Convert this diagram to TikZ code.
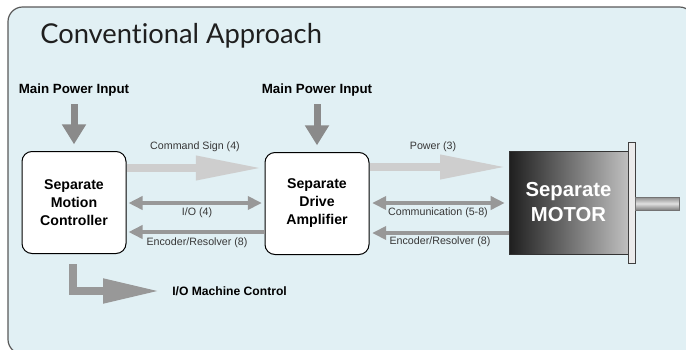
\documentclass[tikz,border=0pt]{standalone}
\usepackage{fontspec}
\setmainfont{Liberation Sans}
\newfontfamily\titlefont[Ligatures=NoCommon]{Lato}
\usetikzlibrary{arrows.meta}
\definecolor{panel}{RGB}{225,240,244}
\definecolor{lightarrow}{RGB}{206,206,206}
\definecolor{midarrow}{RGB}{152,152,152}
\definecolor{darkarrow}{RGB}{138,138,138}
\definecolor{labelgray}{RGB}{55,55,55}
\begin{document}
\begin{tikzpicture}[x=0.75pt,y=-0.75pt,
    unitbox/.style={draw=black,fill=white,rounded corners=7.5pt,line width=0.75pt,
      minimum width=78pt,minimum height=76.5pt,align=center,
      font=\bfseries\fontsize{10.6}{13.5}\selectfont},
    motorbox/.style={draw=black!80,left color=black!88,right color=black!25,text=white,
      minimum width=89.25pt,minimum height=77.25pt,align=center,
      font=\bfseries\fontsize{15.2}{18.75}\selectfont},
    heading/.style={font=\bfseries\fontsize{10}{12}\selectfont,inner sep=0pt},
    tag/.style={font=\fontsize{8}{9.5}\selectfont,text=labelgray,inner sep=0pt},
    feedarrow/.style={darkarrow,line width=5.25pt,-{Triangle[length=15pt,width=17.25pt]}},
    flowarrow/.style={lightarrow,line width=6pt,-{Triangle[length=50pt,width=17pt]}},
    sigarrow/.style={midarrow,line width=3pt,-{Triangle[length=10.5pt,width=9.75pt]}},
    bisigarrow/.style={midarrow,line width=3pt,{Triangle[length=10.5pt,width=9.75pt]}-{Triangle[length=10.5pt,width=9.75pt]}},
    outarrow/.style={midarrow,line width=6pt,-{Triangle[length=42.75pt,width=17.25pt]}}]
  \useasboundingbox (0,0) rectangle (686,350);
  \clip (0,0) rectangle (686,350);
  \draw[black!65,fill=panel,rounded corners=11pt,line width=0.9pt] (8,7) rectangle (694,354);
  \node[anchor=base west,font=\titlefont\fontsize{20.5}{24}\selectfont,text=black!88,inner sep=0pt] (title) at (40,43) {Conventional Approach};

  \node[unitbox] (ctrl) at (74,202.5) {Separate\\Motion\\Controller};
  \node[unitbox] (amp) at (317,203.5) {Separate\\Drive\\Amplifier};
  \node[motorbox] (motor) at (568.5,202.5) {Separate\\MOTOR};
  \draw[black!75,fill=black!8,line width=0.75pt] (628,142) rectangle (635,263);
  \draw[black!55,top color=black!45,bottom color=black!50,middle color=black!12,line width=0.6pt] (635,197) rectangle (679,210);

  \node[heading] (pwa) at (74,90) {Main Power Input};
  \node[heading] (pwb) at (317,90) {Main Power Input};
  \draw[feedarrow,shorten <=6pt,shorten >=5pt] (pwa.south) -- (ctrl.north);
  \draw[feedarrow,shorten <=6pt,shorten >=5pt] (pwb.south) -- (amp.north);

  \draw[flowarrow,shorten >=1.5pt] (ctrl.east |- 0,168) -- (amp.west |- 0,168);
  \draw[flowarrow,shorten >=1.5pt] (amp.east |- 0,167) -- (motor.west |- 0,167);
  \draw[bisigarrow,shorten <=1.5pt,shorten >=2pt] (ctrl.east |- 0,203) -- (amp.west |- 0,203);
  \draw[bisigarrow,shorten <=2pt,shorten >=3pt] (amp.east |- 0,203) -- (motor.west |- 0,203);
  \draw[sigarrow,shorten >=1.5pt] (amp.west |- 0,232) -- (ctrl.east |- 0,232);
  \draw[sigarrow,shorten >=2pt] (motor.west |- 0,233) -- (amp.east |- 0,233);

  \node[tag] (lcmd) at (195,147) {Command Sign (4)};
  \node[tag] (lpow) at (433,147) {Power (3)};
  \node[tag] (lio) at (197,213) {I/O (4)};
  \node[tag] (lcom) at (438,213) {Communication (5-8)};
  \node[tag] (lenca) at (197,243) {Encoder/Resolver (8)};
  \node[tag] (lencb) at (440,242) {Encoder/Resolver (8)};

  \node[heading,font=\bfseries\fontsize{9.1}{11}\selectfont,anchor=west] (mach) at (172,291) {I/O Machine Control};
  \draw[outarrow,shorten <=7.5pt,shorten >=9pt] ([xshift=-1pt]ctrl.south) |- (mach.west);
\end{tikzpicture}
\end{document}
